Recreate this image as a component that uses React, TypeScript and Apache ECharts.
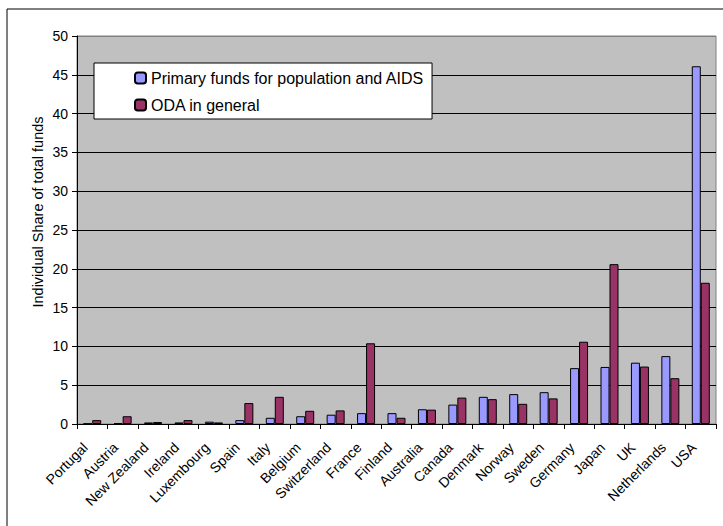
import React, { useEffect, useRef } from "react";
import * as echarts from "echarts";

const categories = [
  "Portugal", "Austria", "New Zealand", "Ireland", "Luxembourg", "Spain", "Italy",
  "Belgium", "Switzerland", "France", "Finland", "Australia", "Canada", "Denmark",
  "Norway", "Sweden", "Germany", "Japan", "UK", "Netherlands", "USA",
];
const primaryFunds = [
  0.05, 0.1, 0.2, 0.2, 0.3, 0.5, 0.8, 1.0, 1.2, 1.4, 1.4, 1.9, 2.5, 3.5, 3.85, 4.1,
  7.2, 7.35, 7.9, 8.75, 46.1,
];
const odaGeneral = [
  0.5, 1.0, 0.25, 0.5, 0.2, 2.7, 3.5, 1.7, 1.75, 10.4, 0.8, 1.85, 3.4, 3.2, 2.6, 3.3,
  10.6, 20.6, 7.4, 5.9, 18.2,
];
const seriesNames = ["Primary funds for population and AIDS", "ODA in general"];
const yTitle = "Individual Share of total funds";

const FONT = "'Liberation Sans', Arial, sans-serif";

export default function App() {
  const ref = useRef<HTMLDivElement>(null);
  useEffect(() => {
    if (!ref.current) return;
    const chart = echarts.init(ref.current, null, { renderer: "svg" });
    const splitColors = Array.from({ length: 11 }, (_, i) => (i === 10 ? "#808080" : "#000000"));
    chart.setOption({
      animation: false,
      backgroundColor: "#ffffff",
      textStyle: { fontFamily: FONT },
      grid: {
        left: 77,
        top: 36,
        right: 7,
        bottom: 102,
        show: true,
        backgroundColor: "#c0c0c0",
        borderColor: "#808080",
        borderWidth: 1,
      },
      legend: {
        orient: "vertical",
        left: 94,
        top: 63,
        padding: [7, 8, 6, 40],
        itemGap: 11,
        itemWidth: 11,
        itemHeight: 11,
        backgroundColor: "#ffffff",
        borderColor: "#000000",
        borderWidth: 1,
        borderRadius: 0,
        textStyle: { fontFamily: FONT, fontSize: 16, color: "#000" },
        data: seriesNames,
      },
      xAxis: {
        type: "category",
        data: categories,
        axisLine: { lineStyle: { color: "#000", width: 1 } },
        axisTick: { show: true, length: 5, alignWithLabel: false, lineStyle: { color: "#000" } },
        axisLabel: {
          rotate: 45,
          interval: 0,
          margin: 14,
          padding: [0, 10, 0, 0],
          fontFamily: FONT,
          fontSize: 14,
          color: "#000",
        },
      },
      yAxis: {
        type: "value",
        min: 0,
        max: 50,
        interval: 5,
        axisLine: { show: true, lineStyle: { color: "#000", width: 1 } },
        axisTick: { show: true, length: 5, lineStyle: { color: "#000" } },
        axisLabel: { fontFamily: FONT, fontSize: 14, color: "#000", margin: 9 },
        splitLine: { show: true, lineStyle: { color: splitColors, width: 1 } },
      },
      graphic: [
        {
          type: "rect",
          shape: { x: 7, y: 9, width: 800, height: 600 },
          style: { fill: "none", stroke: "#000", lineWidth: 1 },
          silent: true,
          z: 100,
        },
        {
          type: "text",
          x: 38,
          y: 212,
          rotation: Math.PI / 2,
          style: {
            text: yTitle,
            fontFamily: FONT,
            fontSize: 14.5,
            fill: "#000",
            align: "center",
            verticalAlign: "middle",
          },
        },
      ],
      series: [
        {
          name: seriesNames[0],
          type: "bar",
          data: primaryFunds,
          barWidth: 9,
          barGap: "0%",
          itemStyle: { color: "#9999ff", borderColor: "#000", borderWidth: 1 },
        },
        {
          name: seriesNames[1],
          type: "bar",
          data: odaGeneral,
          barWidth: 9,
          barGap: "0%",
          itemStyle: { color: "#993366", borderColor: "#000", borderWidth: 1 },
        },
      ],
    });
    return () => chart.dispose();
  }, []);
  return (
    <div
      ref={ref}
      style={{ position: "fixed", left: 0, top: 0, width: 723, height: 526 }}
    />
  );
}
